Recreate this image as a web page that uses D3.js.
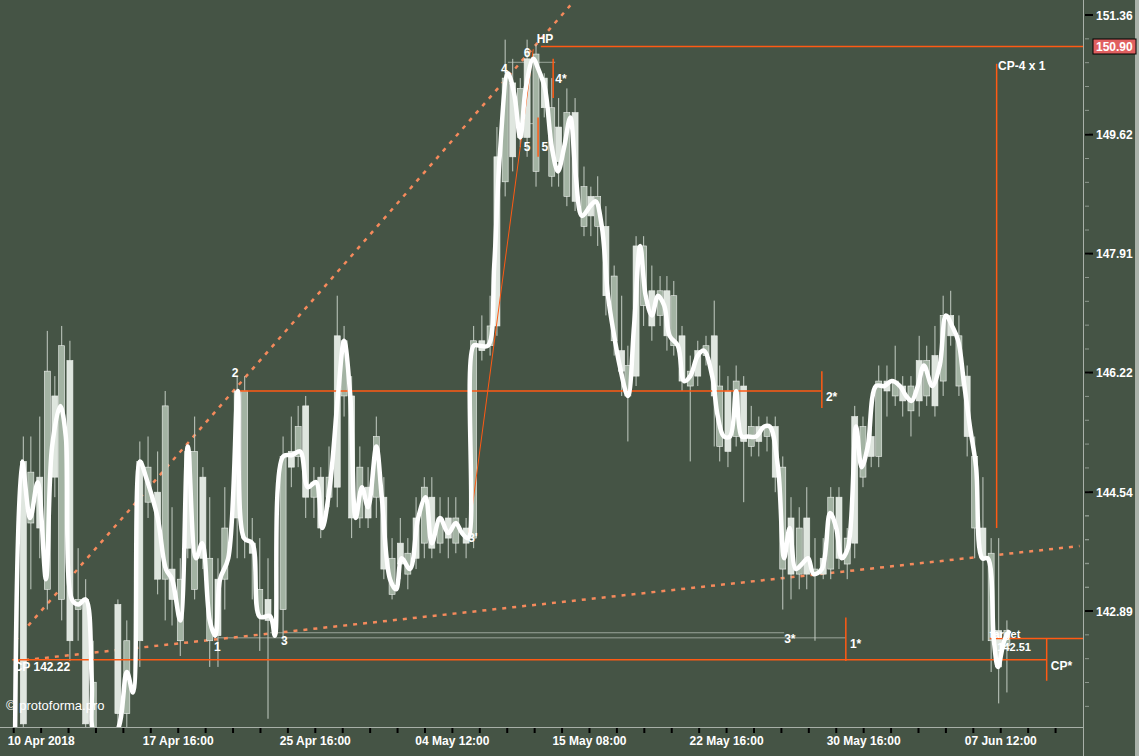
<!DOCTYPE html>
<html><head><meta charset="utf-8">
<script src="https://cdn.jsdelivr.net/npm/d3@7"></script>
<style>body{margin:0;background:#455445;}svg{display:block;}</style>
</head><body><svg id="c" width="1139" height="756"></svg>
<script>
// ---- data ----
const priceTicks = [151.36, 149.62, 147.91, 146.22, 144.54, 142.89];
const timeLabels = ["10 Apr 2018","17 Apr 16:00","25 Apr 16:00","04 May 12:00","15 May 08:00","22 May 16:00","30 May 16:00","07 Jun 12:00"];
const timeLabelSlots = [6, 26, 46, 66, 86, 106, 126, 146];
const lineT = [2.2,3.2,4.4,5.5,6.7,7.6,8.8,9.6,10.5,11.4,12.5,13.4,13.9,16.8,18.5,19.4,20.4,21.3,23,24.2,25.1,26.3,27.4,28.6,29.5,30.6,31.4,32.1,33.3,34.7,35.6,36.8,37.9,39.4,40.1,41.3,42.6,43.8,44.9,46.1,47,48.1,49.3,50.2,51.1,51.9,52.8,53.7,54.9,55.7,56.9,57.8,58.6,59.8,61,62.1,63,64.2,65.4,66.5,67.4,68.3,69.1,70,71.2,72.1,72.9,74.1,75,75.9,76.7,77.8,78.5,79.5,80.5,81.4,82.3,83.2,84,84.9,86.1,86.9,87.8,88.7,89.6,90.4,91.6,92.5,93.4,94.2,95.1,96,96.9,97.7,98.9,99.8,100.7,101.8,102.7,103.9,104.7,105.6,106.5,107.4,108.2,109.1,110.3,111.5,112.3,113.5,114.4,115.2,116.1,117,117.9,118.7,119.9,121.1,122,122.8,123.7,124.9,125.7,126.6,127.8,129,130.1,131.3,132.2,133,133.9,134.8,136,137.1,138,138.9,139.8,140.6,141.5,142.4,143.3,144.1,145,145.6,146.5,147.3];
const lineP = [141.20,144.97,144.18,144.68,143.33,145.18,145.75,145.32,143.05,142.98,143.05,141.91,141.20,141.20,142.05,141.77,144.97,144.75,144.18,143.47,143.33,142.76,145.18,143.62,143.83,142.76,142.55,143.33,143.62,145.96,143.90,143.83,142.81,142.82,142.55,145.04,145.06,145.11,144.61,144.68,144.04,144.61,145.89,146.67,145.89,144.18,144.61,144.33,145.18,144.47,143.33,143.19,143.62,143.47,144.18,144.47,143.83,144.18,143.97,144.11,143.97,143.90,146.60,146.60,146.60,147.74,149.30,150.51,150.22,149.58,150.29,150.72,150.58,150.29,149.44,149.09,149.44,149.87,149.02,148.45,148.59,148.66,148.30,147.31,146.74,146.32,145.89,146.88,148.02,147.31,147.03,147.31,147.17,146.74,146.60,146.10,146.17,146.46,146.53,146.17,145.61,145.32,145.32,145.96,145.32,145.32,145.32,145.46,145.46,144.89,143.62,144.04,143.47,143.54,143.62,143.40,143.47,144.25,144.04,143.62,143.76,145.46,144.89,145.18,146.03,146.03,146.10,146.03,145.89,145.82,146.03,146.32,146.03,146.32,147.03,146.88,146.67,146.10,145.46,144.89,143.62,143.62,142.48,142.12,142.48,142.62];
const candleT = [3.4,4.5,5.8,6.9,8.0,9.0,10.2,11.4,12.5,13.6,17.2,18.5,20.4,21.6,23.0,24.1,25.1,26.3,27.4,28.4,29.6,30.6,31.8,32.8,34.6,35.7,36.8,37.9,39.1,41.3,42.5,43.5,44.6,45.8,46.8,48.0,49.2,50.2,51.3,52.5,53.7,54.9,56.0,57.2,58.4,59.5,60.7,61.9,63.0,64.2,65.4,66.5,68.0,69.1,70.3,71.5,72.5,73.7,74.8,75.9,76.9,78.2,79.4,80.5,81.5,82.7,83.9,85.2,86.2,87.2,88.4,89.6,90.7,91.6,92.8,93.9,95.1,96.3,97.3,98.3,99.5,100.7,101.8,103.0,104.2,105.0,106.2,107.4,108.5,109.6,110.7,111.9,113.1,114.2,115.4,116.6,117.7,118.9,120.1,121.2,122.4,123.6,124.7,125.9,127.1,128.2,129.4,130.6,131.7,132.9,134.1,135.2,136.4,137.6,138.7,139.9,141.1,142.2,143.4,144.6,145.7,146.9];
const candleTop = [144.97,144.82,144.75,146.24,145.89,146.60,146.39,143.05,143.05,141.91,142.98,142.48,144.97,144.89,144.54,145.75,143.47,143.33,145.11,145.11,144.75,143.62,143.33,144.04,145.96,145.96,143.83,143.19,143.05,145.04,145.11,145.46,145.75,144.68,144.75,144.75,146.74,146.67,145.89,144.89,144.61,145.32,144.47,143.62,143.83,143.69,144.18,144.61,144.47,144.18,144.18,144.18,144.04,146.67,146.67,146.88,149.30,150.44,150.37,150.29,150.72,150.79,150.44,150.01,149.73,149.94,149.94,148.87,148.73,148.73,148.30,147.59,146.53,146.32,148.02,148.02,147.38,147.38,147.38,147.31,146.74,146.24,146.53,146.60,146.74,146.03,145.96,146.10,146.03,145.46,145.46,145.46,145.46,144.89,144.18,144.04,144.18,143.47,143.62,144.47,144.47,143.90,145.60,145.46,145.32,146.10,146.10,146.10,146.03,146.03,146.39,146.39,146.46,147.03,147.03,146.74,146.17,145.04,144.04,143.69,142.62,142.62];
const candleBot = [141.34,144.11,144.04,143.19,144.75,143.05,142.48,142.91,141.34,141.20,141.48,141.48,142.48,144.40,143.33,143.33,143.05,142.48,143.76,143.19,143.62,142.48,142.55,143.33,144.18,143.90,143.69,142.83,142.76,142.91,144.89,145.04,144.47,144.47,144.04,144.47,144.61,145.89,144.18,144.18,144.18,144.47,143.47,143.12,143.54,143.40,143.62,143.83,143.76,143.83,143.90,143.83,143.83,143.90,146.53,146.60,146.88,148.94,149.30,149.58,149.58,149.09,150.01,149.02,149.23,148.73,148.66,148.30,148.45,148.30,147.31,146.67,146.24,145.89,146.17,147.17,146.88,147.03,146.74,146.60,146.10,146.03,146.17,146.46,145.89,145.18,145.11,145.32,145.25,145.18,145.25,145.32,144.75,143.47,143.40,143.40,143.40,143.40,143.40,143.47,143.62,143.54,143.83,144.75,145.04,145.04,145.96,145.89,145.82,145.68,145.82,145.89,145.75,146.10,146.74,146.03,145.32,144.04,143.62,142.48,142.12,142.41];
const candleHigh = [145.32,145.32,145.60,146.81,146.17,146.88,146.67,143.76,143.33,142.48,143.05,142.76,145.25,145.32,145.11,145.96,144.33,143.62,145.18,145.60,144.89,144.47,143.62,144.61,146.17,146.17,144.18,143.90,143.62,145.32,145.60,145.75,145.89,144.89,144.89,145.18,147.31,146.88,146.17,145.18,144.89,145.60,144.75,143.90,144.18,143.90,144.47,144.75,144.75,144.47,144.47,144.47,144.18,146.88,147.03,147.31,149.73,151.00,150.72,150.44,151.00,150.93,150.51,150.44,150.15,150.29,150.15,149.16,148.87,149.02,148.59,147.74,147.31,146.60,148.16,148.16,147.74,147.59,147.59,147.52,146.88,146.46,146.67,146.74,147.24,146.32,146.17,146.32,146.17,145.75,145.60,145.60,145.60,145.04,144.47,144.33,144.61,143.90,143.90,144.61,144.61,144.04,145.75,145.60,145.46,146.32,146.32,146.60,146.17,146.17,146.74,146.60,146.88,147.31,147.38,147.03,146.32,145.32,144.75,143.90,143.90,142.76];
const candleLow = [141.13,143.19,143.62,142.91,144.47,142.76,142.20,142.48,141.06,141.06,141.20,141.20,142.12,144.18,143.12,142.76,142.69,142.27,143.62,143.05,143.47,142.12,142.12,142.91,143.62,143.62,143.05,142.34,141.41,142.48,144.61,144.89,144.18,144.18,143.90,144.33,144.33,145.60,143.90,144.04,144.04,144.18,143.33,143.05,143.33,143.19,143.47,143.62,143.62,143.69,143.62,143.69,143.62,143.76,146.39,146.46,146.74,148.73,149.09,149.44,149.30,148.87,149.87,148.87,148.87,148.59,148.52,148.16,148.16,148.02,147.03,146.46,145.89,145.25,146.03,146.88,146.67,146.88,146.53,146.46,145.96,144.97,146.03,146.32,145.18,144.97,144.89,145.18,144.40,145.04,145.04,145.11,144.54,142.91,143.05,143.19,143.19,142.48,143.33,143.33,143.47,143.33,143.62,144.61,144.89,144.89,145.60,145.75,145.60,145.32,145.60,145.75,145.60,145.89,146.60,145.89,145.04,143.62,142.48,142.05,141.62,141.77];
const hpPrice = 150.90, cpPrice = 142.22, level2Price = 145.96, level1Price = 142.52, level3Price = 142.59, targetPrice = 142.51;

// ---- scales ----
const W = 1139, H = 756, plotR = 1083, plotB = 727;
const x = d3.scaleLinear().domain([0, 158]).range([0, plotR]);
const y = d3.scaleLog().domain([151.36, 142.89]).range([15, 611]);
const svg = d3.select("#c");
const font = "'Liberation Sans', Arial, sans-serif";
const orange = "#ff5a14", dotC = "#f58a5c";

svg.append("rect").attr("width", W).attr("height", H).attr("fill", "#455445");
svg.append("defs").append("clipPath").attr("id","pc").append("rect").attr("width", plotR).attr("height", plotB);
const g = svg.append("g").attr("clip-path","url(#pc)");

function hline(p, t0, t1, col, w){ g.append("line").attr("x1",x(t0)).attr("x2",x(t1)).attr("y1",y(p)).attr("y2",y(p)).attr("stroke",col).attr("stroke-width",w||1.5); }
function vline(t, p0, p1, col){ g.append("line").attr("x1",x(t)).attr("x2",x(t)).attr("y1",y(p0)).attr("y2",y(p1)).attr("stroke",col).attr("stroke-width",1.5); }
hline(level3Price, 39.4, 114.4, "#9aa59a", 1);
hline(level1Price, 31.8, 123.4, "#9aa59a", 1);
hline(150.67, 74.1, 81, "#9aa59a", 1);
hline(149.78, 76.6, 78.5, "#9aa59a", 1);

// dotted trend lines
g.append("line").attr("x1",x(2.2)).attr("y1",y(142.48)).attr("x2",x(83.2)).attr("y2",y(151.5))
 .attr("stroke",dotC).attr("stroke-width",2.5).attr("stroke-dasharray","4,6");
g.append("line").attr("x1",x(2.2)).attr("y1",y(142.20)).attr("x2",x(157.5)).attr("y2",y(143.79))
 .attr("stroke",dotC).attr("stroke-width",2.5).attr("stroke-dasharray","4,6");

// candles
const cg = g.append("g");
candleT.forEach((t,i)=>{
  const cx = x(t);
  cg.append("line").attr("x1",cx).attr("x2",cx).attr("y1",y(candleHigh[i])).attr("y2",y(candleLow[i])).attr("stroke","#c3ccc3").attr("stroke-width",1);
  const top = y(candleTop[i]), bot = y(candleBot[i]);
  cg.append("rect").attr("x",cx-3).attr("width",6).attr("y",top).attr("height",Math.max(1,bot-top))
    .attr("fill", i%2 ? "#a3b3a3" : "#dfe6df").attr("stroke","#eef2ee").attr("stroke-width",0.6);
});

// orange structure lines
hline(hpPrice, 78.9, 158, orange);
hline(cpPrice, 1.8, 152.7, orange);
hline(level2Price, 34.7, 119.9, orange);
vline(119.9, 146.24, 145.72, orange);
vline(123.4, 142.80, 142.20, orange);
vline(152.7, 142.51, 141.93, orange);
vline(145.4, 150.65, 144.04, orange);
vline(80.7, 150.72, 150.15, orange);
vline(78.5, 149.87, 149.30, orange);
hline(targetPrice, 144.4, 158, orange);
g.append("line").attr("x1",x(68.3)).attr("y1",y(143.90)).attr("x2",x(77.8)).attr("y2",y(150.86)).attr("stroke",orange).attr("stroke-width",1);

// main white line
g.append("path").datum(lineT.map((t,i)=>[t,lineP[i]]))
 .attr("d", d3.line().x(d=>x(d[0])).y(d=>y(d[1])).curve(d3.curveCatmullRom.alpha(0.5)))
 .attr("fill","none").attr("stroke","#ffffff").attr("stroke-width",4.5).attr("stroke-linejoin","round");

// labels
function lab(t, p, txt, dx, dy, size){ svg.append("text").attr("x",x(t)+dx).attr("y",y(p)+dy).text(txt)
  .attr("fill","#ffffff").attr("font-family",font).attr("font-weight","bold").attr("font-size",size||12); }
lab(31.8,142.52,"1",-4,13); lab(33.8,146.10,"2",0,-4); lab(41,142.59,"3",0,12);
lab(68.3,143.90,"3'",0,4); lab(73.1,150.51,"4",0,0); lab(76.4,149.44,"5",0,4); lab(79.0,149.44,"5",0,4);
lab(76.4,150.86,"6",0,8); lab(78.3,151.0,"HP",0,3); lab(81,150.60,"4*",0,16);
lab(120.2,145.96,"2*",2,10); lab(114.4,142.59,"3*",0,10); lab(123.7,142.52,"1*",2,10);
lab(145.6,150.65,"CP-4 x 1",0,6); lab(153,142.22,"CP*",2,10);
lab(2.0,142.22,"CP 142.22",0,11);
lab(144.4,142.51,"target",0,-1,11); lab(145.5,142.51,"142.51",0,12,11);
svg.append("text").attr("x",6).attr("y",710).text("© protoforma.pro").attr("fill","#ffffff").attr("font-family",font).attr("font-size",13);

// axes
svg.append("line").attr("x1",plotR+0.5).attr("x2",plotR+0.5).attr("y1",0).attr("y2",H).attr("stroke","#a8b0a8");
svg.append("line").attr("x1",0).attr("x2",plotR).attr("y1",plotB+0.5).attr("y2",plotB+0.5).attr("stroke","#a8b0a8");
svg.append("rect").attr("x",1135).attr("y",0).attr("width",4).attr("height",H).attr("fill","#aab2aa");
for (let k=0;k<priceTicks.length;k++){
  const yy = y(priceTicks[k]);
  for (let j=-5;j<=5;j++){ const ym = yy + j*23.84; if(j!==0 && ym>0 && ym<plotB && (k===priceTicks.length-1 || j>0))
    svg.append("line").attr("x1",plotR+2).attr("x2",plotR+6).attr("y1",ym).attr("y2",ym).attr("stroke","#8e988e"); }
}
priceTicks.forEach(p=>{
  svg.append("line").attr("x1",plotR+2).attr("x2",plotR+10).attr("y1",y(p)).attr("y2",y(p)).attr("stroke","#000").attr("stroke-width",2);
  svg.append("text").attr("x",plotR+13).attr("y",y(p)+4.5).text(p.toFixed(2)).attr("fill","#ffffff").attr("font-family",font).attr("font-weight","bold").attr("font-size",12);
});
svg.append("rect").attr("x",plotR+10).attr("y",y(hpPrice)-7.5).attr("width",43).attr("height",15).attr("fill","#e06060").attr("stroke","#000");
svg.append("text").attr("x",plotR+13).attr("y",y(hpPrice)+4.5).text(hpPrice.toFixed(2)).attr("fill","#ffffff").attr("font-family",font).attr("font-weight","bold").attr("font-size",12);
for (let s=2; s<158; s+=4){
  svg.append("line").attr("x1",x(s)).attr("x2",x(s)).attr("y1",plotB+1).attr("y2",plotB+6).attr("stroke","#000").attr("stroke-width",2);
}
timeLabels.forEach((t,i)=>{
  svg.append("text").attr("x",x(timeLabelSlots[i])).attr("y",745).attr("text-anchor","middle").text(t)
    .attr("fill","#ffffff").attr("font-family",font).attr("font-weight","bold").attr("font-size",12);
});
</script></body></html>
